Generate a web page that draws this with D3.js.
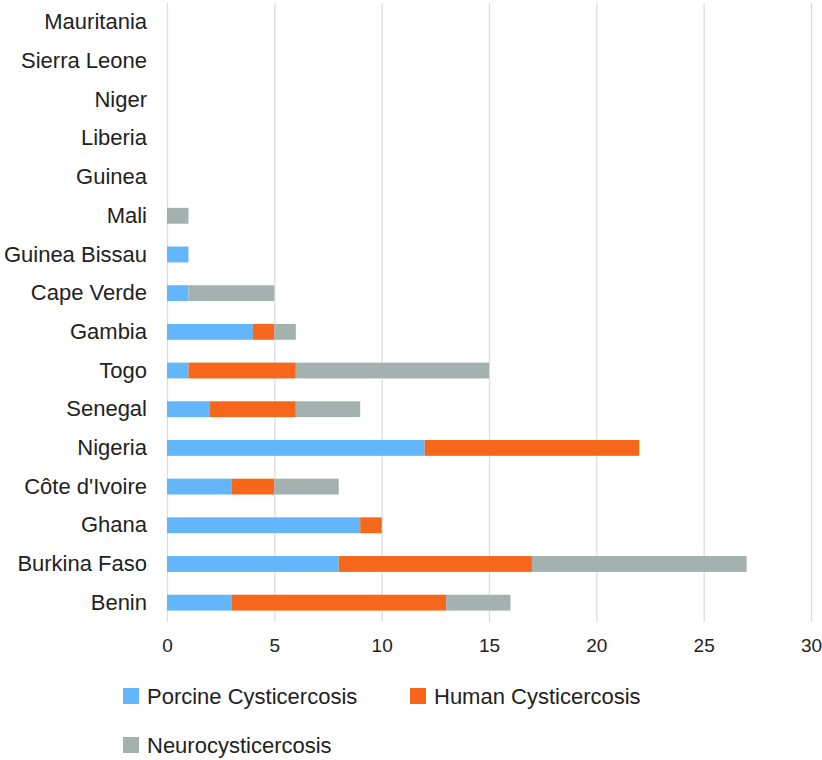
<!DOCTYPE html>
<html>
<head>
<meta charset="utf-8">
<script src="https://cdn.jsdelivr.net/npm/d3@7"></script>
<style>
  body { margin: 0; background: #fff; }
  svg { display: block; font-family: "Liberation Sans", Arial, sans-serif; }
</style>
</head>
<body>
<svg id="chart" width="822" height="760"></svg>
<script>
/* ── DATA ── */
const countries = ['Mauritania', 'Sierra Leone', 'Niger', 'Liberia', 'Guinea', 'Mali',
  'Guinea Bissau', 'Cape Verde', 'Gambia', 'Togo', 'Senegal', 'Nigeria',
  "Côte d'Ivoire", 'Ghana', 'Burkina Faso', 'Benin'];
const porcine = [0, 0, 0, 0, 0, 0, 1, 1, 4, 1, 2, 12, 3, 9, 8, 3];
const human   = [0, 0, 0, 0, 0, 0, 0, 0, 1, 5, 4, 10, 2, 1, 9, 10];
const neuro   = [0, 0, 0, 0, 0, 1, 0, 4, 1, 9, 3, 0, 3, 0, 10, 3];
const seriesNames = ['Porcine Cysticercosis', 'Human Cysticercosis', 'Neurocysticercosis'];
const seriesColors = ['#62b6f9', '#f7671b', '#a3b2ae'];
const xTicks = [0, 5, 10, 15, 20, 25, 30];

/* ── CHART ── */
const svg = d3.select('#chart');
const x = d3.scaleLinear().domain([0, 30]).range([167, 811]);
const y = d3.scaleBand().domain(countries).range([3, 622]).paddingInner(0.59).paddingOuter(0.295);

const rows = countries.map((c, i) => ({ country: c, p: porcine[i], h: human[i], n: neuro[i] }));
const stack = d3.stack().keys(['p', 'h', 'n'])(rows);

// grid lines
svg.append('g')
  .attr('transform', 'translate(0,622)')
  .call(d3.axisBottom(x).tickValues(xTicks).tickSize(-619).tickFormat(''))
  .call(g => g.select('.domain').remove())
  .call(g => g.selectAll('line').attr('stroke', '#d9dfdf').attr('stroke-width', 1.3));

// bars
stack.forEach((s, k) => {
  svg.append('g').attr('fill', seriesColors[k])
    .selectAll('rect').data(s).join('rect')
    .attr('x', d => x(d[0]))
    .attr('y', d => y(d.data.country))
    .attr('width', d => x(d[1]) - x(d[0]))
    .attr('height', y.bandwidth());
});

// x axis labels
svg.append('g')
  .attr('transform', 'translate(0,622)')
  .call(d3.axisBottom(x).tickValues(xTicks).tickSize(0).tickPadding(17))
  .call(g => g.select('.domain').remove())
  .call(g => g.selectAll('text').attr('fill', '#222').style('font-size', '19px')
    .style('font-family', '"Liberation Sans", Arial, sans-serif'));

// y axis labels
svg.append('g')
  .attr('transform', 'translate(147,0)')
  .call(d3.axisLeft(y).tickSize(0).tickPadding(0))
  .call(g => g.select('.domain').remove())
  .call(g => g.selectAll('text').attr('fill', '#222').style('font-size', '22px')
    .style('font-family', '"Liberation Sans", Arial, sans-serif'));

// legend
const legendPos = [[123, 696], [410, 696], [123, 745]];
seriesNames.forEach((name, i) => {
  const g = svg.append('g').attr('transform', `translate(${legendPos[i][0]},${legendPos[i][1]})`);
  g.append('rect').attr('x', 0).attr('y', -8).attr('width', 16).attr('height', 16).attr('fill', seriesColors[i]);
  g.append('text').attr('x', 24).attr('y', 0).attr('dy', '0.35em')
    .attr('fill', '#222').style('font-size', '22px').text(name);
});
</script>
</body>
</html>
